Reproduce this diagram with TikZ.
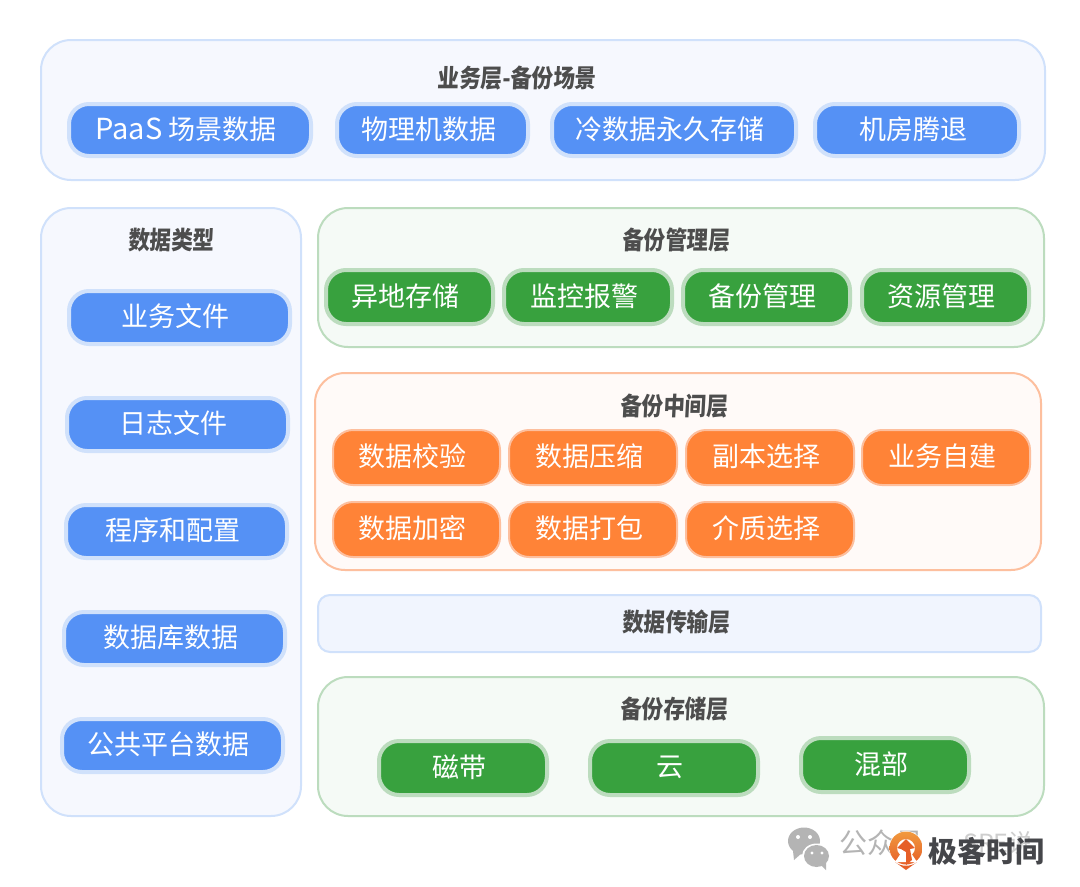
\documentclass[tikz,border=0pt]{standalone}
\usepackage{graphicx}
\usepackage{fontspec}
\setmainfont{Noto Sans CJK SC}
\newfontfamily\titlefont{Noto Sans CJK SC}[BoldFeatures={FakeSlant=0.06}]
\definecolor{bluefill}{HTML}{5591F5}
\definecolor{bluehalo}{HTML}{D0E1FB}
\definecolor{greenfill}{HTML}{38A13E}
\definecolor{greenhalo}{HTML}{BCDCBE}
\definecolor{orangefill}{HTML}{FF8337}
\definecolor{orangehalo}{HTML}{FDBF9E}
\definecolor{bluepanel}{HTML}{F6F8FE}
\definecolor{bandpanel}{HTML}{F1F5FE}
\definecolor{greenpanel}{HTML}{F5FAF6}
\definecolor{orangepanel}{HTML}{FFFAF8}
\definecolor{titlegrey}{HTML}{4D4D4D}
\definecolor{wmgrey}{HTML}{B4B4B4}
\definecolor{logotop}{HTML}{F19A3E}
\definecolor{logobottom}{HTML}{E65F28}
\definecolor{logotext}{HTML}{45464A}
\tikzset{
  panel/.style={rounded corners=30pt,line width=2pt},
  bluepanelbox/.style={panel,draw=bluehalo,fill=bluepanel},
  greenpanelbox/.style={panel,draw=greenhalo,fill=greenpanel},
  orangepanelbox/.style={panel,draw=orangehalo,fill=orangepanel},
  chip/.style={rounded corners=20pt},
  bluechip/.style={chip,draw=bluehalo,fill=bluefill,line width=4pt},
  greenchip/.style={chip,draw=greenhalo,fill=greenfill,line width=4pt},
  orangechip/.style={chip,draw=orangehalo,fill=orangefill,line width=2pt},
  paneltitle/.style={text=titlegrey,font=\titlefont\fontsize{25}{26}\selectfont\bfseries,inner sep=0pt},
}
% #1 name, #2 style, #3 x0, #4 y0, #5 x1, #6 y1, #7 text
\newcommand{\chipbox}[7]{%
  \draw[#2] (#3,#4) rectangle (#5,#6);
  \node[text=white,font=\fontsize{27}{27}\selectfont,inner sep=0pt] (#1) at ({(#3+#5)/2-4},{(#4+#6)/2-1}) {#7};
}
\newcommand{\narrow}[1]{\scalebox{0.86}[1]{#1}}
\begin{document}
\begin{tikzpicture}[x=1pt,y=-1pt]
\useasboundingbox (0,0) rectangle (1080,887);
\fill[white] (0,0) rectangle (1080,887);

% panels
\draw[bluepanelbox] (41,40) rectangle (1045,180);
\draw[bluepanelbox] (41,208) rectangle (301,816);
\draw[greenpanelbox] (318,208) rectangle (1044,347);
\draw[orangepanelbox] (315,373) rectangle (1041,570);
\draw[panel,rounded corners=12pt,draw=bluehalo,fill=bandpanel] (318,595) rectangle (1041,652);
\draw[greenpanelbox] (318,677) rectangle (1044,816);

% titles
\node[paneltitle] (t1) at (517,78) {\narrow{业务层-备份场景}};
\node[paneltitle] (t2) at (171,240) {\narrow{数据类型}};
\node[paneltitle] (t3) at (676,240) {\narrow{备份管理层}};
\node[paneltitle] (t4) at (674,406) {\narrow{备份中间层}};
\node[paneltitle] (t5) at (676,622) {\narrow{数据传输层}};
\node[paneltitle] (t6) at (674,709) {\narrow{备份存储层}};

% top row
\chipbox{a1}{bluechip}{69}{104}{311}{156}{{\fontsize{29}{27}\selectfont PaaS} 场景数据}
\chipbox{a2}{bluechip}{337}{104}{528}{156}{物理机数据}
\chipbox{a3}{bluechip}{552}{104}{796}{156}{冷数据永久存储}
\chipbox{a4}{bluechip}{815}{104}{1019}{156}{机房腾退}

% left column
\chipbox{b1}{bluechip}{69}{291}{290}{344}{业务文件}
\chipbox{b2}{bluechip}{67}{398}{288}{451}{日志文件}
\chipbox{b3}{bluechip}{66}{505}{287}{558}{程序和配置}
\chipbox{b4}{bluechip}{64}{612}{285}{665}{数据库数据}
\chipbox{b5}{bluechip}{62}{719}{283}{772}{公共平台数据}

% management
\chipbox{c1}{greenchip}{326}{270}{493}{324}{异地存储}
\chipbox{c2}{greenchip}{504}{270}{672}{324}{监控报警}
\chipbox{c3}{greenchip}{683}{270}{850}{324}{备份管理}
\chipbox{c4}{greenchip}{862}{270}{1029}{324}{资源管理}

% middle
\chipbox{d1}{orangechip}{333}{430}{500}{485}{数据校验}
\chipbox{d2}{orangechip}{509}{430}{677}{485}{数据压缩}
\chipbox{d3}{orangechip}{686}{430}{854}{485}{副本选择}
\chipbox{d4}{orangechip}{862}{430}{1030}{485}{业务自建}
\chipbox{d5}{orangechip}{333}{502}{500}{557}{数据加密}
\chipbox{d6}{orangechip}{509}{502}{677}{557}{数据打包}
\chipbox{d7}{orangechip}{686}{502}{854}{557}{介质选择}

% storage
\chipbox{e1}{greenchip}{379}{741}{547}{795}{磁带}
\chipbox{e2}{greenchip}{590}{741}{758}{795}{云}
\chipbox{e3}{greenchip}{801}{738}{969}{792}{混部}

% watermark: WeChat icon and account name
\fill[wmgrey] (804,841) ellipse [x radius=16,y radius=13.5];
\fill[wmgrey] (793,851) -- (794,860) -- (802,853) -- cycle;
\fill[white] (816.5,856) ellipse [x radius=14.5,y radius=12.5];
\fill[wmgrey] (816.5,856) ellipse [x radius=12.5,y radius=11];
\fill[wmgrey] (820,864) -- (826,858) -- (826,870) -- cycle;
\fill[white] (798,837) circle (2) (810,837) circle (2) (812,853) circle (1.7) (822,853) circle (1.7);
\node[text=wmgrey,font=\fontsize{28}{28}\selectfont,inner sep=0pt,anchor=west] (wm) at (839,843) {公众号};
\node[text=wmgrey!65,font=\fontsize{25}{25}\selectfont,inner sep=0pt,anchor=west] (wm2) at (963,843) {SRE说};

% logo
\fill[white] (906,848) circle (17);
\shade[top color=logotop,bottom color=logobottom,even odd rule] (906,848) circle (16.5) (906,848) circle (9);
\fill[white] (895,862) -- (917,862) -- (909,850) -- (903,850) -- cycle;
\fill[logobottom] (897,848) -- (906,839) -- (915,848) -- (910,849) -- (912,860) -- (906,865) -- (906,852) -- (901,849) -- cycle;
\fill[logobottom] (895,862) .. controls (901,867) and (911,867) .. (917,862) -- (906,870) -- cycle;
\node[text=logotext,font=\fontsize{29}{29}\selectfont\bfseries,inner sep=0pt,anchor=west] (logo) at (928,851) {极客时间};
\end{tikzpicture}
\end{document}
